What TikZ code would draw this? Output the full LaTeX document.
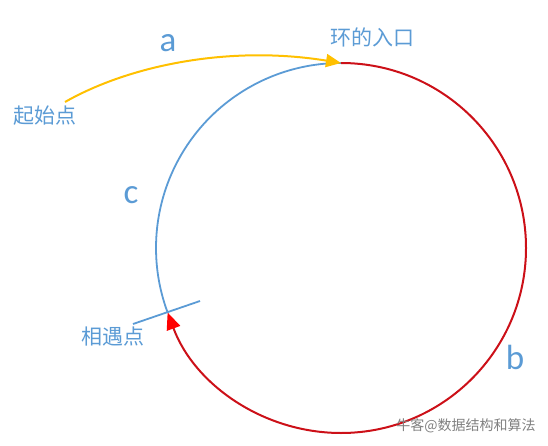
\documentclass[tikz,border=0pt]{standalone}
\usepackage{fontspec}
\usepackage{tikz}
\usetikzlibrary{arrows.meta,calc}
\setmainfont{Carlito}
\newfontfamily\cjk{Noto Sans CJK SC}
\definecolor{lblue}{RGB}{91,155,213}
\definecolor{lred}{RGB}{204,16,24}
\definecolor{lyellow}{RGB}{255,192,0}
\tikzset{
    bluearc/.style={draw=lblue, line width=1.8pt},
    redarc/.style={draw=lred, line width=2pt},
    yellowarc/.style={draw=lyellow, line width=2pt},
    cjklabel/.style={text=lblue, font=\cjk\fontsize{21}{24}\selectfont, inner sep=0pt},
    letterlabel/.style={text=lblue, font=\fontsize{35}{40}\selectfont, inner sep=0pt}
}

\begin{document}
\begin{tikzpicture}[x=1pt,y=1pt]
    \useasboundingbox (0,0) rectangle (548,445);

    \coordinate (center) at (341,197);
    \coordinate (entry) at (341,382);
    \coordinate (meet) at ($(center)+(200.4:185)$);
    \coordinate (start) at (65,343);
    \coordinate (tickl) at (133,121);
    \coordinate (tickr) at (200,144);

	% the cycle: c in blue, b in red
    \draw[bluearc] (entry) arc[start angle=90, end angle=200.4, radius=185];
    \draw[redarc, -{Triangle[length=17pt, width=14pt, color=red]}]
        (entry) arc[start angle=90, end angle=-159.6, radius=185];

	% path a
    \draw[yellowarc, -{Triangle[length=15pt, width=13pt]}]
        (start) .. controls (130,380) and (230,400) .. (entry);

    \draw[bluearc] (tickl) -- (tickr);

    \node[letterlabel] (la) at (168,402) {a};
    \node[letterlabel] (lc) at (131,250) {c};
    \node[letterlabel] (lb) at (515,88) {b};

    \node[cjklabel] (lentry) at (372,408) {环的入口};
    \node[cjklabel] (lstart) at (45,329) {起始点};
    \node[cjklabel] (lmeet) at (113,108) {相遇点};

    \node[text=gray, font=\cjk\fontsize{14}{16}\selectfont, inner sep=0pt] (mark) at (466,19) {牛客@数据结构和算法};
\end{tikzpicture}
\end{document}
